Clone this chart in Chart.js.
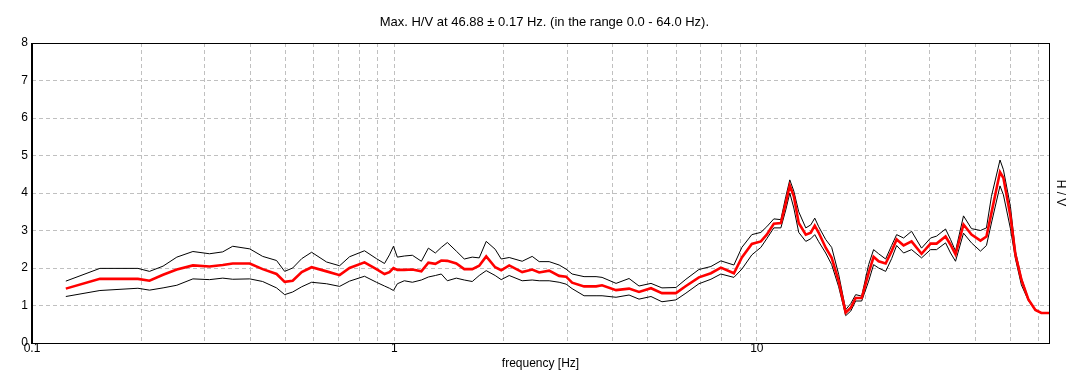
<!DOCTYPE html>
<html>
<head>
<meta charset="utf-8">
<script src="https://cdn.jsdelivr.net/npm/chart.js@4.4.0/dist/chart.umd.min.js"></script>
<style>
  body { margin: 0; background: #fff; }
  canvas { display: block; }
</style>
</head>
<body>
<canvas id="hvChart" width="1081" height="387"></canvas>
<script>
// frequency samples [Hz] and H/V values
const freqs = [0.124,0.154,0.196,0.211,0.230,0.251,0.278,0.309,0.336,0.358,0.399,0.433,0.473,0.498,0.524,0.555,0.591,0.650,0.706,0.752,0.827,0.892,0.939,0.969,0.994,1.019,1.065,1.121,1.187,1.241,1.297,1.347,1.400,1.482,1.559,1.640,1.714,1.792,1.897,1.971,2.074,2.252,2.400,2.509,2.673,2.848,2.977,3.093,3.337,3.601,3.741,4.089,4.441,4.731,5.105,5.473,5.981,6.374,6.922,7.470,7.959,8.645,9.094,9.687,10.26,10.65,11.14,11.65,12.02,12.33,12.65,13.05,13.65,14.09,14.45,14.82,15.49,16.09,16.82,17.59,18.16,18.74,19.47,20.35,21.00,21.68,22.67,23.55,24.31,25.41,26.73,28.48,30.16,31.33,33.17,34.24,35.34,37.18,39.11,41.41,43.01,44.40,46.88,47.91,50.09,51.70,53.70,56.14,58.69,60.96,64.0];

const hvMean = [1.45,1.71,1.71,1.66,1.82,1.96,2.07,2.04,2.08,2.12,2.12,1.97,1.84,1.63,1.66,1.89,2.02,1.91,1.81,2.00,2.15,1.97,1.84,1.89,2.00,1.95,1.95,1.96,1.91,2.14,2.11,2.20,2.19,2.12,1.97,1.97,2.06,2.31,2.02,1.94,2.07,1.89,1.96,1.88,1.93,1.79,1.77,1.61,1.51,1.51,1.54,1.41,1.45,1.36,1.46,1.33,1.33,1.52,1.75,1.86,2.01,1.86,2.28,2.64,2.71,2.89,3.18,3.20,3.73,4.20,3.91,3.20,2.89,2.94,3.13,2.94,2.54,2.27,1.65,0.81,0.94,1.20,1.20,1.87,2.30,2.18,2.12,2.45,2.76,2.60,2.71,2.38,2.65,2.65,2.84,2.62,2.36,3.16,2.89,2.73,2.84,3.47,4.56,4.40,3.38,2.36,1.69,1.16,0.88,0.80,0.80];

const hvUpper = [1.65,1.99,1.99,1.91,2.05,2.29,2.44,2.38,2.43,2.58,2.51,2.31,2.20,1.91,2.00,2.25,2.42,2.16,2.06,2.30,2.46,2.25,2.12,2.35,2.58,2.29,2.32,2.34,2.18,2.53,2.40,2.55,2.68,2.45,2.24,2.29,2.27,2.71,2.50,2.24,2.28,2.18,2.31,2.17,2.17,2.08,1.97,1.84,1.77,1.77,1.75,1.59,1.72,1.52,1.59,1.47,1.48,1.70,1.96,2.04,2.19,2.08,2.55,2.89,2.95,3.10,3.31,3.29,3.90,4.35,4.05,3.50,3.07,3.15,3.33,3.10,2.76,2.55,1.83,0.89,1.05,1.29,1.25,2.09,2.49,2.38,2.24,2.60,2.89,2.80,2.98,2.53,2.80,2.85,3.04,2.76,2.45,3.39,3.05,3.00,3.07,3.91,4.88,4.62,3.64,2.45,1.74,1.18,0.89,0.80,0.80];

const hvLower = [1.24,1.40,1.46,1.41,1.47,1.54,1.71,1.69,1.73,1.70,1.71,1.64,1.47,1.29,1.36,1.50,1.62,1.58,1.51,1.65,1.78,1.62,1.52,1.46,1.40,1.58,1.66,1.62,1.68,1.76,1.80,1.84,1.66,1.73,1.68,1.64,1.80,1.93,1.80,1.69,1.80,1.66,1.68,1.66,1.66,1.62,1.57,1.45,1.26,1.26,1.26,1.22,1.28,1.17,1.24,1.10,1.15,1.33,1.58,1.70,1.84,1.75,1.97,2.35,2.55,2.78,3.07,3.07,3.55,4.00,3.60,2.95,2.71,2.78,2.89,2.70,2.40,2.09,1.50,0.73,0.85,1.12,1.12,1.65,2.09,2.00,1.91,2.25,2.60,2.40,2.49,2.27,2.49,2.49,2.67,2.40,2.18,2.93,2.67,2.45,2.60,3.20,4.19,3.95,3.05,2.25,1.55,1.13,0.87,0.80,0.80];

// grid positions on the log axis, only decades get a label
const xGridTicks = [0.1,0.2,0.3,0.4,0.5,0.6,0.7,0.8,0.9,1,2,3,4,5,6,7,8,9,10,20,30,40,50,60];
const xLabelled = [0.1, 1, 10];

const FONT = 'Arial, "Liberation Sans", sans-serif';

function toPoints(vals) {
    return freqs.map((f, i) => ({ x: f, y: vals[i] }));
}

// black frame around the plot area
const frameBox = {
    id: 'frameBox',
    afterDraw(chart) {
        const { ctx, chartArea: a } = chart;
        ctx.save();
        ctx.strokeStyle = '#000';
        ctx.lineWidth = 1;
        ctx.strokeRect(Math.round(a.left) + 0.5, Math.round(a.top) + 0.5,
            Math.round(a.right - a.left), Math.round(a.bottom - a.top));
        ctx.restore();
    }
};

const ctx = document.getElementById('hvChart').getContext('2d');
new Chart(ctx, {
    type: 'line',
    data: {
        datasets: [
            { label: 'H/V', data: toPoints(hvMean), borderColor: '#ff0000', borderWidth: 2.6 },
            { label: 'H/V + std', data: toPoints(hvUpper), borderColor: '#000', borderWidth: 1 },
            { label: 'H/V - std', data: toPoints(hvLower), borderColor: '#000', borderWidth: 1 }
        ]
    },
    options: {
        responsive: false,
        animation: false,
        elements: {
            point: { radius: 0 },
            line: { tension: 0, fill: false }
        },
        layout: { padding: { left: 17.3, right: 9.6, top: 8.6, bottom: 16.6 } },
        plugins: {
            legend: { display: false },
            tooltip: { enabled: false },
            title: {
                display: true,
                text: 'Max. H/V at 46.88 ± 0.17 Hz. (in the range 0.0 - 64.0 Hz).',
                color: '#000',
                font: { family: FONT, size: 13, weight: 'normal' },
                padding: { top: 5.6, bottom: 13.2 }
            }
        },
        scales: {
            x: {
                type: 'logarithmic',
                min: 0.1,
                max: 64,
                afterBuildTicks(scale) {
                    scale.ticks = xGridTicks.map(v => ({ value: v }));
                },
                ticks: {
                    autoSkip: false,
                    maxRotation: 0,
                    padding: 3,
                    color: '#000',
                    font: { family: FONT, size: 12, lineHeight: 0.5 },
                    callback: (v) => xLabelled.includes(v) ? String(v) : ''
                },
                grid: { color: '#c0c0c0', lineWidth: 1, drawTicks: false },
                border: { display: true, color: '#000', dash: [4, 3] },
                title: {
                    display: true,
                    text: 'frequency [Hz]',
                    color: '#000',
                    font: { family: FONT, size: 12 },
                    padding: { top: 1, bottom: 0 }
                }
            },
            y: {
                min: 0,
                max: 8,
                ticks: {
                    stepSize: 1,
                    padding: 4,
                    color: '#000',
                    font: { family: FONT, size: 12 }
                },
                grid: { color: '#c0c0c0', lineWidth: 1, drawTicks: false },
                border: { display: true, color: '#000', dash: [4, 3] }
            },
            y2: {
                position: 'right',
                min: 0,
                max: 8,
                ticks: { display: false },
                grid: { display: false, drawTicks: false },
                border: { display: false },
                title: {
                    display: true,
                    text: 'H / V',
                    color: '#000',
                    font: { family: FONT, size: 12 },
                    padding: { top: 4, bottom: 4 }
                }
            }
        }
    },
    plugins: [frameBox]
});
</script>
</body>
</html>
